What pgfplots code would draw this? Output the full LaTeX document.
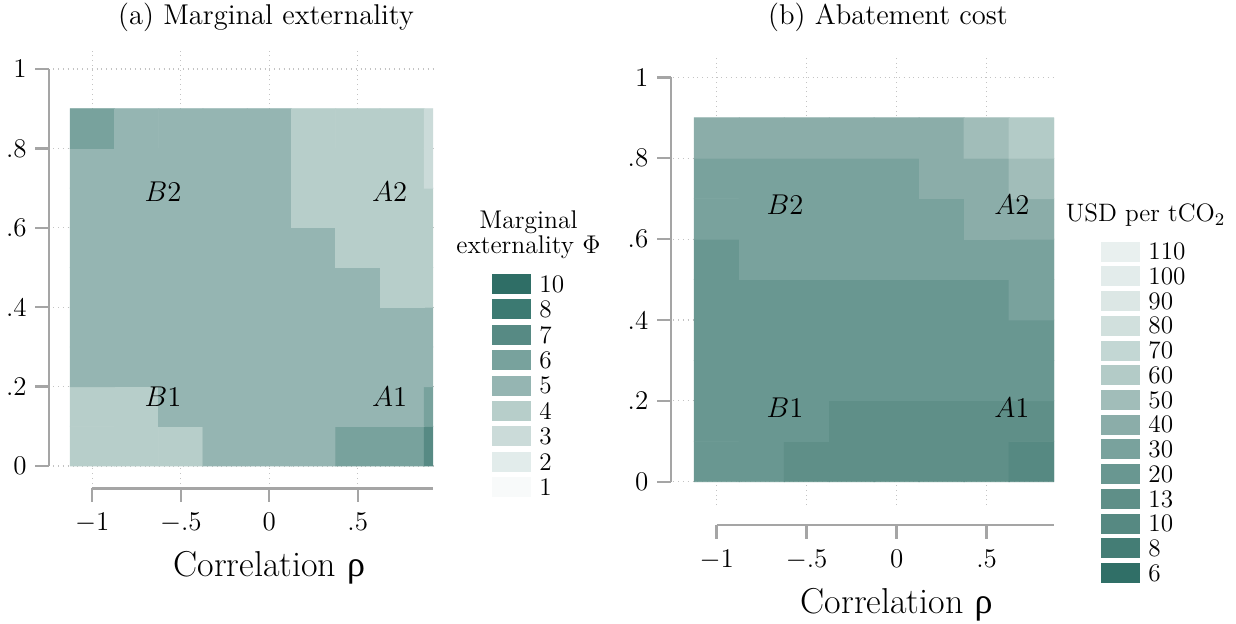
\RequirePackage{fix-cm}
\documentclass[border=0pt]{standalone}
\usepackage{fontspec}
\usepackage{pgfplots}
\pgfplotsset{compat=1.18}
\newfontfamily\grk{Liberation Serif}

\definecolor{axgray}{RGB}{165,165,165}
\definecolor{gridgray}{RGB}{195,195,195}
% marginal externality levels
\definecolor{mea1}{RGB}{248,250,250}
\definecolor{mea2}{RGB}{226,236,235}
\definecolor{mea3}{RGB}{203,219,217}
\definecolor{mea4}{RGB}{183,206,202}
\definecolor{mea5}{RGB}{149,181,178}
\definecolor{mea6}{RGB}{120,162,157}
\definecolor{mea7}{RGB}{87,138,132}
\definecolor{mea8}{RGB}{60,122,114}
\definecolor{mea10}{RGB}{47,110,102}
% abatement cost levels
\definecolor{usd6}{RGB}{48,111,103}
\definecolor{usd8}{RGB}{68,125,117}
\definecolor{usd10}{RGB}{86,137,130}
\definecolor{usd13}{RGB}{95,143,136}
\definecolor{usd20}{RGB}{105,151,145}
\definecolor{usd30}{RGB}{121,162,157}
\definecolor{usd40}{RGB}{139,173,169}
\definecolor{usd50}{RGB}{161,189,185}
\definecolor{usd60}{RGB}{179,203,199}
\definecolor{usd70}{RGB}{195,215,212}
\definecolor{usd80}{RGB}{209,224,221}
\definecolor{usd90}{RGB}{220,231,229}
\definecolor{usd100}{RGB}{227,236,235}
\definecolor{usd110}{RGB}{233,240,239}

\newcommand\tkf{\fontsize{13.5}{15}\selectfont}
\newcommand\lbf{\fontsize{14.3}{17}\selectfont}
\newcommand\ttf{\fontsize{18}{21}\selectfont}
\newcommand\lgf{\fontsize{12.6}{14}\selectfont}

\tikzset{axl/.style={axgray, line width=1.2pt}}

\pgfplotsset{hm/.style={scale only axis, anchor=south west, clip mode=individual,
  axis line style={draw=none}, major tick length=0pt, tick style={draw=none},
  xtick={-1,-0.5,0,0.5}, ytick={0,0.2,0.4,0.6,0.8,1}, xticklabels={}, yticklabels={},
  tick label style={opacity=0},
  grid=major, major grid style={dotted, gridgray, line width=0.6pt},
  colormap access=direct}}

% #1 xmin, #2 gap, #3 y, #4 label
\newcommand\ytk[4]{\draw[axl] ([xshift=-#2]axis cs:#1,#3) -- ([xshift={-#2-7pt}]axis cs:#1,#3);
  \node[anchor=east,inner sep=0pt,font=\tkf] at ([xshift={-#2-11pt}]axis cs:#1,#3) {#4};}
% #1 ymin, #2 gap, #3 x, #4 label
\newcommand\xtk[4]{\draw[axl] ([yshift=-#2]axis cs:#3,#1) -- ([yshift={-#2-7pt}]axis cs:#3,#1);
  \node[anchor=base,inner sep=0pt,font=\tkf] at ([yshift={-#2-21pt}]axis cs:#3,#1) {#4};}

\begin{document}
\begin{tikzpicture}
\useasboundingbox (0,0) rectangle (618pt,311.5pt);

% ---------------- (a) Marginal externality ----------------
\begin{axis}[hm, at={(26.65pt,69.85pt)}, width=189.85pt, height=218.3pt,
  xmin=-1.2203, xmax=0.925, ymin=-0.0436, ymax=1.0562,
  colormap={mea}{color=(mea1) color=(mea1) color=(mea2) color=(mea3) color=(mea4) color=(mea5) color=(mea6) color=(mea7) color=(mea8) color=(mea8) color=(mea10)}]
\addplot[matrix plot*, mesh/cols=9, point meta=explicit] table[row sep=\\, meta=c] {
x y c\\
-1 0.05 4\\ -0.75 0.05 4\\ -0.5 0.05 4\\ -0.25 0.05 5\\ 0 0.05 5\\ 0.25 0.05 5\\ 0.5 0.05 6\\ 0.75 0.05 6\\ 1 0.05 7\\
-1 0.15 4\\ -0.75 0.15 4\\ -0.5 0.15 5\\ -0.25 0.15 5\\ 0 0.15 5\\ 0.25 0.15 5\\ 0.5 0.15 5\\ 0.75 0.15 5\\ 1 0.15 6\\
-1 0.25 5\\ -0.75 0.25 5\\ -0.5 0.25 5\\ -0.25 0.25 5\\ 0 0.25 5\\ 0.25 0.25 5\\ 0.5 0.25 5\\ 0.75 0.25 5\\ 1 0.25 5\\
-1 0.35 5\\ -0.75 0.35 5\\ -0.5 0.35 5\\ -0.25 0.35 5\\ 0 0.35 5\\ 0.25 0.35 5\\ 0.5 0.35 5\\ 0.75 0.35 5\\ 1 0.35 5\\
-1 0.45 5\\ -0.75 0.45 5\\ -0.5 0.45 5\\ -0.25 0.45 5\\ 0 0.45 5\\ 0.25 0.45 5\\ 0.5 0.45 5\\ 0.75 0.45 4\\ 1 0.45 4\\
-1 0.55 5\\ -0.75 0.55 5\\ -0.5 0.55 5\\ -0.25 0.55 5\\ 0 0.55 5\\ 0.25 0.55 5\\ 0.5 0.55 4\\ 0.75 0.55 4\\ 1 0.55 4\\
-1 0.65 5\\ -0.75 0.65 5\\ -0.5 0.65 5\\ -0.25 0.65 5\\ 0 0.65 5\\ 0.25 0.65 4\\ 0.5 0.65 4\\ 0.75 0.65 4\\ 1 0.65 4\\
-1 0.75 5\\ -0.75 0.75 5\\ -0.5 0.75 5\\ -0.25 0.75 5\\ 0 0.75 5\\ 0.25 0.75 4\\ 0.5 0.75 4\\ 0.75 0.75 4\\ 1 0.75 3\\
-1 0.85 6\\ -0.75 0.85 5\\ -0.5 0.85 5\\ -0.25 0.85 5\\ 0 0.85 5\\ 0.25 0.85 4\\ 0.5 0.85 4\\ 0.75 0.85 4\\ 1 0.85 3\\
};
\draw[axl] ([xshift=-2.15pt]axis cs:-1.2203,0) -- ([xshift=-2.15pt]axis cs:-1.2203,1);
\ytk{-1.2203}{2.15pt}{0}{0}
\ytk{-1.2203}{2.15pt}{0.2}{.2}
\ytk{-1.2203}{2.15pt}{0.4}{.4}
\ytk{-1.2203}{2.15pt}{0.6}{.6}
\ytk{-1.2203}{2.15pt}{0.8}{.8}
\ytk{-1.2203}{2.15pt}{1}{1}
\draw[axl] ([yshift=-2.5pt]axis cs:-1,-0.0436) -- ([yshift=-2.5pt]axis cs:0.925,-0.0436);
\xtk{-0.0436}{2.5pt}{-1}{$-1$}
\xtk{-0.0436}{2.5pt}{-0.5}{$-.5$}
\xtk{-0.0436}{2.5pt}{0}{0}
\xtk{-0.0436}{2.5pt}{0.5}{.5}
\node[anchor=base,inner sep=0pt,font=\ttf] at ([yshift=-46.8pt]axis cs:0,-0.0436) {Correlation {\grk ρ}};
\node[font=\lbf] at (axis cs:-0.60,0.69) {$B2$};
\node[font=\lbf] at (axis cs:0.68,0.69) {$A2$};
\node[font=\lbf] at (axis cs:-0.60,0.174) {$B1$};
\node[font=\lbf] at (axis cs:0.68,0.174) {$A1$};
\end{axis}

% ---------------- (b) Abatement cost ----------------
% k = index of the level: 0:6 1:8 2:10 3:13 4:20 5:30 6:40 7:50 8:60 9:70 10:80 11:90 12:100 13:110
\begin{axis}[hm, at={(336.65pt,59pt)}, width=190.4pt, height=223.8pt,
  xmin=-1.241, xmax=0.875, ymin=-0.0576, ymax=1.0494,
  colormap={usd}{color=(usd6) color=(usd8) color=(usd10) color=(usd13) color=(usd20) color=(usd30) color=(usd40) color=(usd50) color=(usd60) color=(usd70) color=(usd80) color=(usd90) color=(usd100) color=(usd110)}]
\addplot[matrix plot*, mesh/cols=8, point meta=explicit] table[row sep=\\, meta=k] {
x y usd k\\
-1 0.05 20 4\\ -0.75 0.05 20 4\\ -0.5 0.05 13 3\\ -0.25 0.05 13 3\\ 0 0.05 13 3\\ 0.25 0.05 13 3\\ 0.5 0.05 13 3\\ 0.75 0.05 10 2\\
-1 0.15 20 4\\ -0.75 0.15 20 4\\ -0.5 0.15 20 4\\ -0.25 0.15 13 3\\ 0 0.15 13 3\\ 0.25 0.15 13 3\\ 0.5 0.15 13 3\\ 0.75 0.15 13 3\\
-1 0.25 20 4\\ -0.75 0.25 20 4\\ -0.5 0.25 20 4\\ -0.25 0.25 20 4\\ 0 0.25 20 4\\ 0.25 0.25 20 4\\ 0.5 0.25 20 4\\ 0.75 0.25 20 4\\
-1 0.35 20 4\\ -0.75 0.35 20 4\\ -0.5 0.35 20 4\\ -0.25 0.35 20 4\\ 0 0.35 20 4\\ 0.25 0.35 20 4\\ 0.5 0.35 20 4\\ 0.75 0.35 20 4\\
-1 0.45 20 4\\ -0.75 0.45 20 4\\ -0.5 0.45 20 4\\ -0.25 0.45 20 4\\ 0 0.45 20 4\\ 0.25 0.45 20 4\\ 0.5 0.45 20 4\\ 0.75 0.45 30 5\\
-1 0.55 20 4\\ -0.75 0.55 30 5\\ -0.5 0.55 30 5\\ -0.25 0.55 30 5\\ 0 0.55 30 5\\ 0.25 0.55 30 5\\ 0.5 0.55 30 5\\ 0.75 0.55 30 5\\
-1 0.65 30 5\\ -0.75 0.65 30 5\\ -0.5 0.65 30 5\\ -0.25 0.65 30 5\\ 0 0.65 30 5\\ 0.25 0.65 30 5\\ 0.5 0.65 40 6\\ 0.75 0.65 40 6\\
-1 0.75 30 5\\ -0.75 0.75 30 5\\ -0.5 0.75 30 5\\ -0.25 0.75 30 5\\ 0 0.75 30 5\\ 0.25 0.75 40 6\\ 0.5 0.75 40 6\\ 0.75 0.75 50 7\\
-1 0.85 40 6\\ -0.75 0.85 40 6\\ -0.5 0.85 40 6\\ -0.25 0.85 40 6\\ 0 0.85 40 6\\ 0.25 0.85 40 6\\ 0.5 0.85 50 7\\ 0.75 0.85 60 8\\
};
\draw[axl] ([xshift=-1.3pt]axis cs:-1.241,0) -- ([xshift=-1.3pt]axis cs:-1.241,1);
\ytk{-1.241}{1.3pt}{0}{0}
\ytk{-1.241}{1.3pt}{0.2}{.2}
\ytk{-1.241}{1.3pt}{0.4}{.4}
\ytk{-1.241}{1.3pt}{0.6}{.6}
\ytk{-1.241}{1.3pt}{0.8}{.8}
\ytk{-1.241}{1.3pt}{1}{1}
\draw[axl] ([yshift=-10pt]axis cs:-1,-0.0576) -- ([yshift=-10pt]axis cs:0.875,-0.0576);
\xtk{-0.0576}{10pt}{-1}{$-1$}
\xtk{-0.0576}{10pt}{-0.5}{$-.5$}
\xtk{-0.0576}{10pt}{0}{0}
\xtk{-0.0576}{10pt}{0.5}{.5}
\node[anchor=base,inner sep=0pt,font=\ttf] at ([yshift=-54pt]axis cs:0,-0.0576) {Correlation {\grk ρ}};
\node[font=\lbf] at (axis cs:-0.62,0.686) {$B2$};
\node[font=\lbf] at (axis cs:0.64,0.686) {$A2$};
\node[font=\lbf] at (axis cs:-0.62,0.183) {$B1$};
\node[font=\lbf] at (axis cs:0.64,0.183) {$A1$};
\end{axis}

% titles
\node[anchor=base,inner sep=0pt,font=\lbf] at (133pt,299pt) {(a) Marginal externality};
\node[anchor=base,inner sep=0pt,font=\lbf] at (444pt,299pt) {(b) Abatement cost};

% legend (a)
\node[anchor=base,inner sep=0pt,font=\fontsize{12.8}{15}\selectfont] at (264.25pt,197.5pt) {Marginal};
\node[anchor=base,inner sep=0pt,font=\fontsize{12.8}{15}\selectfont] at (264.25pt,185pt) {externality $\Phi$};
\foreach \c [count=\i from 0] in {10,8,7,6,5,4,3,2,1} {
  \fill[mea\c] (246pt,{(311.5-0.5*(274+25.4*\i))*1pt}) rectangle ++(19.5pt,-10pt);
  \node[anchor=west,inner sep=0pt,font=\lgf] at (269.5pt,{(311.5-0.5*(284+25.4*\i))*1pt}) {\c};
}
% legend (b)
\node[anchor=base,inner sep=0pt,font=\lgf] at (572.75pt,200.7pt) {USD per tCO$_2$};
\foreach \c [count=\i from 0] in {110,100,90,80,70,60,50,40,30,20,13,10,8,6} {
  \fill[usd\c] (550.5pt,{(311.5-0.5*(241.7+24.72*\i))*1pt}) rectangle ++(19.5pt,-10pt);
  \node[anchor=west,inner sep=0pt,font=\lgf] at (574pt,{(311.5-0.5*(251.7+24.72*\i))*1pt}) {\c};
}
\end{tikzpicture}
\end{document}
